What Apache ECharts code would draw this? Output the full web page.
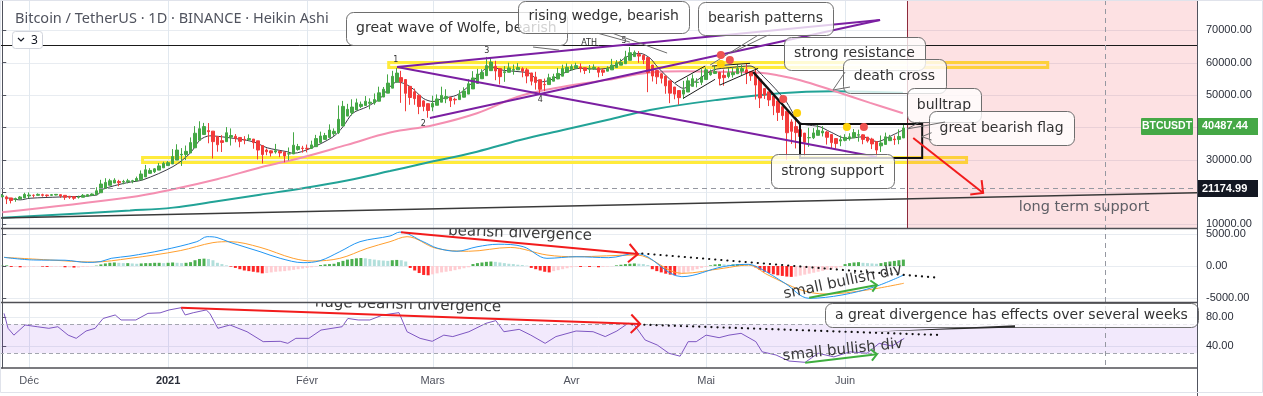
<!DOCTYPE html>
<html><head><meta charset="utf-8">
<script src="https://cdn.jsdelivr.net/npm/echarts@6.0.0/dist/echarts.min.js"></script>
<style>html,body{margin:0;padding:0;background:#fff;overflow:hidden}#chart{width:1263px;height:396px}</style>
</head><body><div id="chart"></div>
<script>
// ================= DATA =================
const firstDay = '2020-11-25';
const dayCount = 267;                       // Nov 25 2020 .. Aug 18 2021 (future space on the right)
// Heikin Ashi candles, thousands of USDT
const haOpenK = [18.6,
18.5,18.2,17.8,17.9,18.2,18.8,19.0,19.0,19.2,19.1,
19.0,19.1,19.2,19.0,18.7,18.6,18.4,18.4,18.7,19.0,
19.2,19.8,21.2,22.1,22.8,23.3,23.1,23.2,23.4,23.45,
23.8,24.7,25.8,26.3,26.8,27.5,28.2,28.7,29.9,31.5,
31.6,32.1,33.7,36.0,37.8,39.0,38.85,37.2,35.9,35.6,
37.0,37.25,36.9,36.3,36.2,36.4,35.85,34.4,33.0,32.75,
32.4,32.6,32.35,31.8,31.8,33.15,33.6,33.55,33.5,34.05,
35.3,36.3,36.9,38.05,38.4,40.45,43.5,44.55,45.4,46.5,
46.8,47.45,47.6,48.1,49.4,50.6,52.15,54.0,55.4,54.8,
52.7,51.0,49.95,48.2,47.35,46.3,46.85,47.8,48.85,49.2,
48.7,48.6,49.35,50.3,51.9,53.6,55.05,56.0,57.55,58.9,
58.2,56.95,57.05,57.7,57.8,58.15,57.8,56.85,55.6,54.75,
53.3,53.25,54.3,55.0,55.85,57.0,57.8,58.3,58.7,58.45,
58.0,58.2,58.4,57.7,57.4,57.8,58.5,59.25,59.7,60.75,
61.9,62.55,62.3,61.6,59.3,57.6,56.6,55.9,54.4,52.5,
51.4,50.3,50.95,52.7,53.9,53.95,54.8,56.3,56.7,57.0,
56.1,55.75,56.3,56.6,57.4,57.8,57.3,56.6,54.85,52.0,
51.0,49.75,48.2,46.4,45.0,41.7,40.25,39.3,38.25,36.8,
36.8,37.55,38.3,38.6,37.8,36.55,35.8,36.0,36.45,36.8,
37.6,37.7,37.0,36.4,35.65,34.3,34.75,35.9,36.4,36.3,
36.75];
const haCloseK = [18.9,
17.9,17.4,18.0,18.5,19.3,19.1,19.0,19.3,19.0,18.9,
19.2,19.3,18.8,18.4,18.4,18.1,18.4,19.0,19.2,19.4,
20.4,22.5,23.0,23.5,23.7,22.9,23.3,23.5,23.5,24.2,
25.6,26.9,26.7,27.2,28.1,28.9,29.1,31.0,33.0,31.7,
32.6,35.3,38.2,39.6,40.25,38.7,35.6,34.65,35.35,38.35,
37.5,36.6,35.7,36.1,36.55,35.3,33.0,31.6,32.5,32.1,
32.8,32.1,31.2,31.85,34.5,34.1,33.5,33.4,34.6,36.55,
37.35,37.5,39.2,38.8,42.5,46.5,45.6,46.3,47.6,47.15,
48.1,47.8,48.6,50.7,51.8,53.7,55.8,56.8,54.15,50.55,
49.25,48.9,46.45,46.5,45.25,47.4,48.8,49.9,49.55,48.25,
48.5,50.1,51.25,53.5,55.3,56.5,57.0,59.1,60.2,57.45,
55.7,57.2,58.4,57.9,58.5,57.4,55.9,54.3,53.9,51.8,
53.2,55.35,55.7,56.7,58.2,58.6,58.8,59.1,58.2,57.6,
58.35,58.6,57.05,57.05,58.2,59.25,60.0,60.1,61.8,63.1,
63.2,62.05,60.9,57.0,55.9,55.65,55.2,52.85,50.6,50.3,
49.2,51.6,54.4,55.05,54.0,55.6,57.8,57.1,57.3,55.15,
55.4,56.9,56.95,58.2,58.2,56.8,55.95,53.1,49.1,50.0,
48.5,46.7,44.65,43.65,38.35,38.8,38.4,37.2,35.4,36.85,
38.3,39.1,38.85,36.95,35.3,35.0,36.2,36.9,37.1,38.4,
37.75,36.3,35.8,34.9,33.0,35.2,37.1,36.9,36.2,37.2,
39.8];
const haLowK = [18.4,
16.3,16.5,17.0,17.9,18.2,18.1,18.3,18.9,18.6,18.5,
18.9,19.0,18.2,17.6,17.9,17.6,18.0,18.4,18.7,19.0,
19.2,19.8,21.2,22.1,22.8,21.8,22.4,22.7,22.7,23.45,
23.8,24.7,25.8,25.9,26.8,27.5,28.2,28.7,29.9,28.1,
29.9,32.1,33.7,36.0,37.8,35.1,30.4,32.5,32.4,35.6,
34.4,35.4,33.85,34.8,35.9,33.4,30.1,28.85,31.4,31.0,
31.9,30.8,29.2,29.8,31.8,32.8,32.2,32.3,33.4,34.05,
35.3,36.3,36.9,37.4,37.95,40.45,43.5,43.7,45.4,46.0,
46.8,45.6,47.0,48.1,49.4,50.6,52.15,54.0,47.6,45.0,
47.0,47.0,44.1,45.0,43.0,45.0,46.85,47.8,47.5,46.3,
47.1,48.6,49.3,50.3,51.9,53.6,55.0,56.0,57.55,54.6,
53.3,54.1,57.0,56.3,57.8,55.5,53.65,53.0,51.7,50.4,
51.2,53.25,54.3,54.9,55.85,56.9,57.8,58.3,57.0,56.5,
56.8,57.8,55.5,55.9,57.4,57.8,58.5,59.25,59.7,60.75,
61.9,60.0,59.6,50.9,54.2,53.4,53.6,50.4,47.5,48.7,
47.0,48.8,50.95,52.7,52.4,53.1,54.8,56.0,56.5,53.0,
52.9,55.2,55.4,56.6,56.2,53.4,54.4,48.6,46.0,48.8,
46.6,43.8,42.0,42.3,30.0,34.9,33.5,35.3,31.1,34.0,
36.4,37.55,37.2,34.7,33.6,33.4,34.2,35.7,35.9,36.8,
35.6,34.8,35.3,33.3,31.0,32.4,34.75,35.9,34.6,34.8,
36.75];
const haHighK = [19.4,
18.9,18.2,18.3,18.8,19.8,19.9,19.3,19.6,19.5,19.2,
19.4,19.4,19.3,19.0,18.7,18.6,18.9,19.4,19.4,19.6,
21.5,23.8,24.3,24.1,24.3,23.8,23.8,24.1,23.8,24.8,
26.7,28.4,27.4,27.4,29.0,29.4,29.6,33.3,34.8,33.6,
34.4,36.9,40.4,41.9,41.4,41.35,38.85,37.2,37.6,40.1,
39.7,37.95,36.9,37.3,37.85,36.4,35.85,34.4,33.5,32.9,
34.9,32.9,32.55,33.8,38.5,34.9,34.3,34.7,35.9,37.7,
38.7,38.3,40.95,39.7,46.8,48.2,47.3,48.7,48.9,48.0,
49.7,49.0,50.5,52.6,52.5,56.4,57.5,58.35,57.5,54.8,
52.7,52.0,49.95,48.4,47.35,49.8,50.2,52.6,51.8,49.5,
49.2,51.5,52.4,54.9,57.4,58.1,58.0,61.8,61.6,60.6,
58.2,58.95,60.0,59.45,59.9,58.6,58.4,56.85,57.2,54.75,
55.1,56.6,56.6,58.4,59.4,59.8,59.5,60.0,59.8,58.5,
59.3,59.5,58.7,58.2,58.9,61.2,60.8,61.2,63.7,64.85,
63.8,63.6,62.5,61.6,59.3,57.6,56.8,55.9,54.4,52.5,
51.4,54.4,55.5,56.4,55.2,58.0,58.5,57.9,58.9,57.2,
57.9,58.4,58.6,59.5,59.3,59.6,57.3,58.0,54.85,52.0,
51.0,49.8,48.2,46.4,45.0,42.5,42.2,39.3,38.3,39.9,
39.8,40.9,40.4,38.9,37.8,36.55,37.5,37.9,38.2,39.5,
39.3,37.9,37.0,36.8,35.65,37.5,38.4,37.7,37.5,39.4,
41.0];
// moving averages, sparse readings [day index, thousands]
const shortMA = [[0.6,18.4],[4,17.6],[6.2,18.1],[12.9,18.5],[21.1,19.1],[22.5,20.9],[27.8,22.9],[31.4,23.8],[38.1,27.9],[41.9,32.0],[44.1,36.1],[46.3,37.4],[50.1,36.9],[55.9,35.6],[59.1,33.7],[63.5,32.5],[64.9,32.0],[68.7,33.5],[73.8,37.1],[76,40.2],[78.2,44.4],[81.4,46.4],[84.3,49.0],[86.5,52.6],[88.1,54.1],[91,52.6],[93.9,49.0],[96.1,48.0],[98.3,49.0],[101.4,50.0],[104.3,53.1],[106.6,56.7],[108.8,58.8],[111.7,57.7],[115.5,57.2],[117.7,56.7],[120,54.1],[122.2,54.6],[125.1,56.7],[128.9,58.3],[132.7,58.0],[136.2,58.8],[139.4,61.9],[142.3,62.9],[144.5,61.4],[146.1,58.8],[148.3,55.7],[150.5,53.1],[151.9,52.1],[155,54.6],[158.5,57.7],[162.3,58.5],[166.8,59.0],[170.1,55.3],[174.6,48.5],[178,41.5],[182.4,40.2],[184.6,38.7],[188.4,36.6],[192,37.1],[195.1,35.6],[198.7,37.7],[200.9,39.2]];
const pinkMA = [[0,13.8],[28.5,18.4],[38.1,20.9],[47.9,24.0],[57.5,27.6],[67.1,30.8],[76.9,34.6],[86.5,38.4],[96.1,40.7],[105.9,44.4],[115.5,49.7],[125.1,52.6],[134.9,54.7],[144.5,57.0],[152,57.4],[159.4,57.2],[169,56.9],[173.5,56.0],[178,54.6],[185.3,51.4],[193.6,47.6],[200.9,44.4]];
const tealMA = [[0,12.1],[28.5,14.3],[38.1,15.2],[47.9,17.2],[57.5,19.2],[67.1,21.2],[76.9,23.6],[86.5,26.5],[93.2,28.6],[105.9,32.5],[115.5,36.1],[125.1,39.2],[134.9,42.3],[144.5,45.4],[159.4,48.5],[173.5,50.6],[185.3,51.2],[200.9,50.7]];
// MACD histogram (one bar per day) and lines
const macdHist = [50,
100,-150,-150,-200,-200,-100,-100,-50,-100,-150,-150,-100,-100,-200,-200,-250,-250,-150,-100,-50,50,
250,400,500,550,500,450,450,
400,350,400,450,450,500,500,450,500,
550,500,450,500,600,
900,1100,1150,1100,900,
500,300,100,
-100,-300,-500,-700,-800,-900,-1000,
-1150,-1100,-1000,-900,-850,-800,
-700,-600,-500,-400,-300,-200,-100,
150,250,300,350,
600,800,1000,1100,1200,1250,
1200,1100,1000,900,850,800,
900,950,900,700,
-300,-700,-1100,-1400,-1450,
-1300,-1150,-1000,-900,-800,-650,-500,-350,-200,
300,450,550,650,700,650,
550,450,350,300,200,150,50,
-300,-500,-700,-900,-1000,
-800,-650,-500,-350,-200,
-100,-150,-100,-150,-100,-200,-150,-100,-50,100,200,
300,350,400,350,300,150,
-500,-800,-1000,-1200,-1350,-1450,-1400,
-1100,-900,-700,-500,-300,
-150,100,250,300,
250,200,250,300,300,250,150,-200,
-600,-900,-1100,-1300,-1450,-1550,-1650,-1700,-1650,
-1500,-1350,-1200,-1050,-900,-750,-600,-500,-350,-200,
300,450,550,600,500,
450,400,350,450,
600,700,800,900,1000];
const macdLine = [[0.4,1350],[7,940],[14,900],[19,560],[22,700],[24.3,1200],[28.5,1560],[35.9,2500],[43.4,3800],[45.7,4580],[47.9,4450],[50.8,3700],[57.5,2240],[62,1200],[67.1,520],[70.9,830],[75.3,2240],[79.8,3800],[86.5,4690],[88.7,5300],[93.9,3800],[97,2800],[101.4,2300],[105.9,3000],[110.6,3400],[116.2,3020],[121.5,1200],[128,1450],[135.3,1300],[141.4,1980],[151.6,-1670],[160.8,-100],[166.4,260],[169,-360],[174.6,-2700],[180,-5050],[187.3,-4530],[194.7,-3230],[201.1,-1400]];
const signalLine = [[0.4,1350],[10.7,940],[20.2,620],[28.5,1200],[39.7,2400],[47,3650],[50.8,3800],[57.5,2920],[64.9,1200],[69.3,780],[75.3,1200],[81.4,2760],[86.5,3800],[90.3,4580],[96.8,2760],[104,2300],[113.3,2900],[121.5,1720],[128,1450],[141.4,1720],[151.6,-1150],[160.8,-360],[166.4,150],[170.8,-1400],[178.2,-3750],[183.8,-4380],[192.9,-3750],[201.1,-2700]];
const rsiLine = [[0.4,85],[1.3,64.4],[2.6,55],[5.1,69],[7.8,66.6],[10.4,64.4],[12.4,66.6],[14.7,55],[16.5,50.6],[18.7,60.7],[20.7,64.4],[22.5,78],[25.2,82.8],[26.5,75.9],[29.8,75.9],[32.5,85],[35.2,85.7],[37.2,89.7],[39.9,92.8],[40.8,82.8],[42.6,85.9],[45.5,89.7],[46.3,85],[48.1,64.4],[50.8,69],[54.6,59.7],[58.2,46],[62,46.5],[63.7,43.7],[65.5,50.6],[68.4,50.6],[71.1,62],[75.8,66.6],[77.1,78],[79.4,75.9],[82,75.9],[84.9,82.8],[88.5,86],[90.3,59.7],[93.2,50.6],[95.9,46.5],[98.5,55],[100.5,53],[104.1,59.7],[107.9,71.3],[110.1,75],[111.9,59.7],[115.3,63],[117.9,55],[121.1,43.7],[123.5,53],[128,60.7],[131.8,59.7],[134.5,53],[137.1,60.7],[139.6,71.3],[140.9,70],[143.4,48.3],[146.1,41.4],[148.7,30],[151.2,26],[153,46],[154.8,46],[157,55],[159.9,51.5],[162.1,55],[164.8,57.5],[168.1,46],[169.5,32],[172.6,27.6],[175.5,19.3],[179.1,17.5],[182,30],[185.5,25],[189.1,32],[192.9,30],[195.6,43.7],[198.5,40],[201.2,50.6]];
// axes
const priceTicks = [10000,20000,30000,40000,50000,60000,70000];
const macdTicks = [-5000,0,5000];
const rsiTicks = [40,80];
const rsiBand = [30,70];
const monthTickDates = ['2020-12-01','2021-01-01','2021-02-01','2021-03-01','2021-04-01','2021-05-01','2021-06-01'];
const monthTickLabels = ['Déc','2021','Févr','Mars','Avr','Mai','Juin'];
const lastPrice = 40487.44, crossPrice = 21174.99, crossDay = 246, athLevel = 65470;

// ================= ANNOTATIONS (data coordinates: [day index, value]) =================
const purpleLines = [[[88.06,58671],[195.8,73194]],[[88.06,58671],[195.1,30861]],[[95.4,42912],[195.8,73194]]];
const waveLabels = [['1',87.8,60834],['2',93.9,41058],['3',108.1,63615],['4',120,48474],['ATH',130.9,66087],['5',138.7,66705]];
const channelLines = [[[150.1,53820],[156.8,58980]],[[151.9,49000],[159.0,54870]],[[158.3,58980],[166.8,59814]],[[160.1,53109],[168.6,58270]]];
const calloutTails = [[[157.9,59289],[169.0,68868]],[[163.0,63306],[171.3,68868]],[[132.7,69177],[140.0,66396]],[[136.0,69177],[148.3,63000]],[[118.4,64851],[124.2,63924]]];
const tailWedges = [[[188.0,57126],[185.3,51564],[189.1,52491]],[[204.7,41676],[201.8,39513],[210.3,41676]],[[207.3,38371],[205.1,37135],[207.3,36114]]];
const crashLine = [[167.5,57126],[177.95,41058]];
const flagBox = [177.95,41058,205.2,30552];
const redDots = [[160.3,62379],[162.3,60834],[174.2,48783],[192.2,40131]];
const yellowDots = [[160.3,59598],[177.3,44457],[188.4,40131]];
const targetArrow = [[203.2,36732],[218.8,19737]];
const redZone = [201.8,266.5];
const longSupport = [[-0.5,12012],[266.5,19830]];
const resistanceBand = [86.2,60061,233.2,58516];
const supportBand = [31.3,30707,215.1,29162];
const priceBoxes = [
  ['great wave of Wolfe, bearish',76.6,75666,126.0,65315],
  ['rising wedge, bearish',115.1,79220,153.2,69177],
  ['bearish patterns',155.2,78910,185.3,68559],
  ['strong resistance',174.4,67941,205.8,57744],
  ['death cross',187.5,61143,210.5,50637],
  ['bulltrap',201.8,52182,218.3,41676],
  ['great bearish flag',206.7,45075,239.1,34569],
  ['strong support',171.5,31788,198.9,21282]];
const macdRedArrow = [[88.95,5266],[141.8,1875]];
const macdDotted = [[141.4,2031],[208.5,-1828]];
const macdGreenArrow = [[180.0,-4953],[195.1,-2969]];
const rsiRedArrow = [[39.9,92.8],[142.3,70.3]];
const rsiDotted = [[140.5,69.9],[209.0,55.2]];
const rsiGreenArrow = [[179.1,17],[195.1,28.6]];
const rsiBox = ['a great divergence has effects over several weeks',183.5,99.3,266.7,66.2];
const rsiTail = [[193.8,59.7],[225.9,68.6],[225.9,65.5]];
const macdNotes = [{j:115.5,v:5078,text:'bearish divergence',rot:-2},{j:187.5,v:-2500,text:'small bullish div',rot:12}];
const rsiNotes = [{j:90.5,v:96.5,text:'huge bearish divergence',rot:-1.5},{j:187.5,v:34.5,text:'small bullish div',rot:6}];

// ================= CHART =================
const dates = [];
(function(){const d0=new Date(firstDay+'T00:00:00Z');for(let k=0;k<dayCount;k++){dates.push(new Date(d0.getTime()+k*86400000).toISOString().slice(0,10));}})();
const K = 1000;
const candleData = haOpenK.map((o,k)=>[o*K, haCloseK[k]*K, haLowK[k]*K, haHighK[k]*K]);
const toPts = (arr, s) => arr.map(p=>[p[0], p[1]*s]);
const histData = macdHist.map((v,k)=>{const prev=k?macdHist[k-1]:v;let c;if(v>=0)c=v>=prev?'#4caf50':'#b2dfdb';else c=v<prev?'#ff2626':'#ffcdd2';return {value:v,itemStyle:{color:c}};});

const PLOT_W = 1197, RIGHT = 1263-PLOT_W;
const grids = [{left:0,right:RIGHT,top:0,height:228},{left:0,right:RIGHT,top:229,height:73},{left:0,right:RIGHT,top:303,height:65}];
const FONT_AX = '"Liberation Sans", Arial, sans-serif';
const catAxis = (gi, show) => ({type:'category',gridIndex:gi,data:dates,boundaryGap:true,axisLine:{show:false},axisTick:{show:false},splitLine:{show:false},
  axisLabel: show ? {show:true,margin:7,color:'#50535e',fontSize:11,fontFamily:FONT_AX,
    interval:(idx,val)=>monthTickDates.indexOf(val)>=0,
    formatter:(val)=>{const i=monthTickDates.indexOf(val);const t=i>=0?monthTickLabels[i]:'';return t==='2021'?'{b|2021}':t;},
    rich:{b:{fontWeight:'bold',color:'#2a2e39',fontSize:11,fontFamily:FONT_AX}}} : {show:false}});
const valAxis = gi => ({type:'value',gridIndex:gi,min:-0.5,max:dayCount-0.5,show:false});
const yAx = (gi,min,max,ticks,dec) => ({type:'value',gridIndex:gi,position:'right',min,max,
  axisLine:{show:true,lineStyle:{color:'#50535e',width:1}},
  axisTick:{show:true,length:4,customValues:ticks,lineStyle:{color:'#50535e'}},
  axisLabel:{customValues:ticks,margin:9,color:'#2a2e39',fontSize:11,fontFamily:FONT_AX,formatter:v=>Number(v).toFixed(dec)},
  splitLine:{show:false}});

function noteSeries(notes, xi, yi){
  return {type:'custom',xAxisIndex:xi,yAxisIndex:yi,clip:true,silent:true,z:8,
    data:notes.map(n=>[n.j,n.v]),encode:{x:0,y:1},
    renderItem:(params,api)=>{const n=notes[params.dataIndex];const p=api.coord([n.j,n.v]);
      return {type:'text',x:p[0],y:p[1],rotation:n.rot*Math.PI/180,
        style:{text:n.text,font:'15px "DejaVu Sans"',fill:'#3a3a3a',textAlign:'center',textVerticalAlign:'middle'}};}};
}

const chart = echarts.init(document.getElementById('chart'), null, {renderer:'canvas'});
chart.setOption({
  animation:false,
  backgroundColor:'#ffffff',
  title:{text:'Bitcoin / TetherUS · 1D · BINANCE · Heikin Ashi',left:10,top:6,textStyle:{fontSize:14.5,fontWeight:'normal',color:'#50535e',fontFamily:'"Noto Sans", sans-serif'}},
  grid:grids,
  xAxis:[catAxis(0,false),catAxis(1,false),catAxis(2,true),valAxis(0),valAxis(1),valAxis(2)],
  yAxis:[yAx(0,8900,79400,priceTicks,2),yAx(1,-5625,5781,macdTicks,2),yAx(2,9.7,99.3,rsiTicks,2)],
  series:[
    {type:'line',xAxisIndex:3,yAxisIndex:0,data:toPts(tealMA,K),smooth:0.4,showSymbol:false,lineStyle:{color:'#22a397',width:2},z:2,silent:true},
    {type:'line',xAxisIndex:3,yAxisIndex:0,data:toPts(pinkMA,K),smooth:0.4,showSymbol:false,lineStyle:{color:'#f48fb1',width:2},z:2,silent:true},
    {type:'line',xAxisIndex:3,yAxisIndex:0,data:toPts(longSupport,1),showSymbol:false,lineStyle:{color:'#3a3a3a',width:1.5},z:2,silent:true},
    {type:'line',xAxisIndex:3,yAxisIndex:0,data:toPts(shortMA,K),smooth:0.3,showSymbol:false,lineStyle:{color:'#3b3b45',width:1},z:3,silent:true},
    {type:'candlestick',xAxisIndex:0,yAxisIndex:0,data:candleData,barWidth:3,z:4,silent:true,
      itemStyle:{color:'#45a846',color0:'#f23b3b',borderColor:'#45a846',borderColor0:'#f23b3b',borderWidth:1}},
    {type:'bar',xAxisIndex:1,yAxisIndex:1,data:histData,barWidth:3,z:2,silent:true},
    {type:'line',xAxisIndex:4,yAxisIndex:1,data:signalLine,smooth:0.35,showSymbol:false,lineStyle:{color:'#ff9f2e',width:1},z:3,silent:true},
    {type:'line',xAxisIndex:4,yAxisIndex:1,data:macdLine,smooth:0.35,showSymbol:false,lineStyle:{color:'#2196f3',width:1},z:3,silent:true},
    {type:'line',xAxisIndex:5,yAxisIndex:2,data:rsiLine,showSymbol:false,lineStyle:{color:'#7e57c2',width:1},z:3,silent:true,
      markArea:{silent:true,itemStyle:{color:'rgba(149,76,233,0.12)'},data:[[{yAxis:rsiBand[0]},{yAxis:rsiBand[1]}]]},
      markLine:{silent:true,symbol:'none',label:{show:false},lineStyle:{color:'#a3a6af',type:[4,3],width:1},data:[{yAxis:rsiBand[0]},{yAxis:rsiBand[1]}]}},
    noteSeries(macdNotes,4,1),
    noteSeries(rsiNotes,5,2)
  ]
});

// ================= GRAPHIC OVERLAYS (positions converted through the axes) =================
const G = [{x:3,y:0},{x:4,y:1},{x:5,y:2}];
const P = (g,j,v) => chart.convertToPixel({xAxisIndex:g.x,yAxisIndex:g.y},[j,v]);
const E = [];
const crisp = v => Math.round(v)+0.5;
const GRID_BOTTOM = 368;
function seg(x1,y1,x2,y2,stroke,w,z,dash){E.push({type:'line',silent:true,z:z,shape:{x1,y1,x2,y2},style:{stroke,lineWidth:w,lineDash:dash||null,lineCap:dash&&dash[0]<=1?'round':'butt'}});}
function dline(g,a,b,stroke,w,z,dash){const p=P(g,a[0],a[1]),q=P(g,b[0],b[1]);seg(p[0],p[1],q[0],q[1],stroke,w,z,dash);}
function arrow(g,a,b,color,w,L){const p=P(g,a[0],a[1]),q=P(g,b[0],b[1]);const ang=Math.atan2(q[1]-p[1],q[0]-p[0]);
  const h1=[q[0]-L*Math.cos(ang-Math.PI/4),q[1]-L*Math.sin(ang-Math.PI/4)],h2=[q[0]-L*Math.cos(ang+Math.PI/4),q[1]-L*Math.sin(ang+Math.PI/4)];
  seg(p[0],p[1],q[0],q[1],color,w,7);E.push({type:'polyline',silent:true,z:7,shape:{points:[h1,q,h2]},style:{stroke:color,lineWidth:w,fill:null}});}
function drect(g,j0,v0,j1,v1,style,z,r){const a=P(g,j0,v0),b=P(g,j1,v1);E.push({type:'rect',silent:true,z:z,shape:{x:Math.min(a[0],b[0]),y:Math.min(a[1],b[1]),width:Math.abs(b[0]-a[0]),height:Math.abs(b[1]-a[1]),r:r||0},style});}
function box(g,t,j0,v0,j1,v1,z){const a=P(g,j0,v0),b=P(g,j1,v1);
  E.push({type:'rect',silent:true,z:z,shape:{x:crisp(a[0]),y:crisp(a[1]),width:Math.round(b[0]-a[0]),height:Math.round(b[1]-a[1]),r:7},style:{fill:'rgba(255,255,255,0.78)',stroke:'#6e6e6e',lineWidth:1}});
  E.push({type:'text',silent:true,z:z+1,x:(a[0]+b[0])/2,y:(a[1]+b[1])/2,style:{text:t,font:'14px "DejaVu Sans"',fill:'#333333',textAlign:'center',textVerticalAlign:'middle'}});}

// grid lines
priceTicks.forEach(v=>{const y=crisp(P(G[0],0,v)[1]);seg(0,y,PLOT_W,y,'#e8ecf1',1,0);});
macdTicks.forEach(v=>{const y=crisp(P(G[1],0,v)[1]);seg(0,y,PLOT_W,y,'#e8ecf1',1,0);});
rsiTicks.forEach(v=>{const y=crisp(P(G[2],0,v)[1]);seg(0,y,PLOT_W,y,'#e8ecf1',1,0);});
monthTickDates.forEach(d=>{const x=crisp(chart.convertToPixel({xAxisIndex:0},d));seg(x,0,x,GRID_BOTTOM,'#e1e8ef',1,0);});

// bands and zone
drect(G[0],supportBand[0],supportBand[1],supportBand[2],supportBand[3],{fill:'rgba(255,241,118,0.18)',stroke:'#ffeb3b',lineWidth:3},1);
drect(G[0],resistanceBand[0],resistanceBand[1],resistanceBand[2],resistanceBand[3],{fill:'rgba(255,241,118,0.18)',stroke:'#ffeb3b',lineWidth:3},1);
drect(G[0],redZone[0],79400,redZone[1],8900,{fill:'rgba(242,54,69,0.15)'},1.5);
{const x=crisp(P(G[0],redZone[0],0)[0]);seg(x,0,x,228,'#8e2a3c',1,1.6);}

// horizontal levels / crosshair
{const y=crisp(P(G[0],0,athLevel)[1]);seg(0,y,PLOT_W,y,'#1a1a1a',1,5);}
{const y=crisp(P(G[0],0,crossPrice)[1]);seg(0,y,PLOT_W,y,'#9598a1',1,5,[5,4]);}
{const x=crisp(P(G[0],crossDay,0)[0]);seg(x,0,x,GRID_BOTTOM,'#9598a1',1,5,[5,4]);}

// wolfe wave
purpleLines.forEach(l=>dline(G[0],l[0],l[1],'#7b1fa2',2,6));
waveLabels.forEach(w=>{const p=P(G[0],w[1],w[2]);E.push({type:'text',silent:true,z:6,x:p[0],y:p[1],style:{text:w[0],font:'8px "DejaVu Sans"',fill:'#333',textAlign:'center',textVerticalAlign:'middle'}});});
channelLines.forEach(l=>dline(G[0],l[0],l[1],'#1a1a1a',1,6));
calloutTails.forEach(l=>dline(G[0],l[0],l[1],'#6e6e6e',1,6));
dline(G[0],crashLine[0],crashLine[1],'#111111',2.5,6);
drect(G[0],flagBox[0],flagBox[1],flagBox[2],flagBox[3],{fill:null,stroke:'#111111',lineWidth:2},6);
redDots.forEach(d=>{const p=P(G[0],d[0],d[1]);E.push({type:'circle',silent:true,z:7,shape:{cx:p[0],cy:p[1],r:4},style:{fill:'#ef5350'}});});
yellowDots.forEach(d=>{const p=P(G[0],d[0],d[1]);E.push({type:'circle',silent:true,z:7,shape:{cx:p[0],cy:p[1],r:4},style:{fill:'#ffd20a'}});});
arrow(G[0],targetArrow[0],targetArrow[1],'#f21c1c',2,13);
{const p=P(G[0],241.3,15411);E.push({type:'text',silent:true,z:6,x:p[0],y:p[1],style:{text:'long term support',font:'14.5px "DejaVu Sans"',fill:'#5f5f66',textAlign:'center',textVerticalAlign:'middle'}});}

// callout boxes
priceBoxes.forEach((b,i)=>box(G[0],b[0],b[1],b[2],b[3],b[4],10+2*i));
tailWedges.forEach((t,i)=>{E.push({type:'polyline',silent:true,z:30,shape:{points:t.map(p=>P(G[0],p[0],p[1]))},style:{stroke:'#6e6e6e',lineWidth:1,fill:null}});});

// MACD / RSI annotations
arrow(G[1],macdRedArrow[0],macdRedArrow[1],'#f21c1c',2,13);
dline(G[1],macdDotted[0],macdDotted[1],'#111',2.2,6,[0.1,6]);
arrow(G[1],macdGreenArrow[0],macdGreenArrow[1],'#3fae3f',2,8);
arrow(G[2],rsiRedArrow[0],rsiRedArrow[1],'#f21c1c',2,13);
dline(G[2],rsiDotted[0],rsiDotted[1],'#111',2.2,6,[0.1,6]);
arrow(G[2],rsiGreenArrow[0],rsiGreenArrow[1],'#3fae3f',2,8);
box(G[2],rsiBox[0],rsiBox[1],rsiBox[2],rsiBox[3],rsiBox[4],12);
E.push({type:'polygon',silent:true,z:12,shape:{points:rsiTail.map(p=>P(G[2],p[0],p[1]))},style:{fill:'#2b2b2b'}});

// panel separators, right scale line, frame
[228.5,302.5,368].forEach(y=>seg(0,y,PLOT_W,y,'#4f4f55',1.5,40));
seg(PLOT_W+0.5,0,PLOT_W+0.5,396,'#50535e',1,40);
E.push({type:'rect',silent:true,z:41,shape:{x:0.5,y:0.5,width:1262,height:392},style:{fill:null,stroke:'#e0e3eb',lineWidth:1}});

// price scale labels
function priceTag(v,bg,text,z){const y=P(G[0],0,v)[1];
  E.push({type:'rect',silent:true,z:z,shape:{x:PLOT_W+1,y:Math.round(y)-8,width:60,height:17},style:{fill:bg}});
  E.push({type:'text',silent:true,z:z+1,x:PLOT_W+5,y:y+0.5,style:{text:text,font:'bold 11px '+FONT_AX,fill:'#ffffff',textAlign:'left',textVerticalAlign:'middle'}});}
priceTag(lastPrice,'#45a846',lastPrice.toFixed(2),50);
priceTag(crossPrice,'#131722',crossPrice.toFixed(2),50);
{const y=P(G[0],0,lastPrice)[1];
 E.push({type:'rect',silent:true,z:50,shape:{x:PLOT_W-56,y:Math.round(y)-8,width:52,height:17,r:1},style:{fill:'#45a846'}});
 E.push({type:'text',silent:true,z:51,x:PLOT_W-30,y:y+0.5,style:{text:'BTCUSDT',font:'bold 10.5px '+FONT_AX,fill:'#ffffff',textAlign:'center',textVerticalAlign:'middle'}});}

// legend toggle chip
E.push({type:'rect',silent:true,z:45,shape:{x:12.5,y:31.5,width:30,height:17,r:3},style:{fill:'#ffffff',stroke:'#d1d4dc',lineWidth:1}});
E.push({type:'polyline',silent:true,z:46,shape:{points:[[18,38],[21,41],[24,38]]},style:{stroke:'#131722',lineWidth:1.2,fill:null}});
E.push({type:'text',silent:true,z:46,x:31,y:40.5,style:{text:'3',font:'12px "Noto Sans"',fill:'#131722',textAlign:'left',textVerticalAlign:'middle'}});

chart.setOption({graphic:{elements:E}});
</script></body></html>
